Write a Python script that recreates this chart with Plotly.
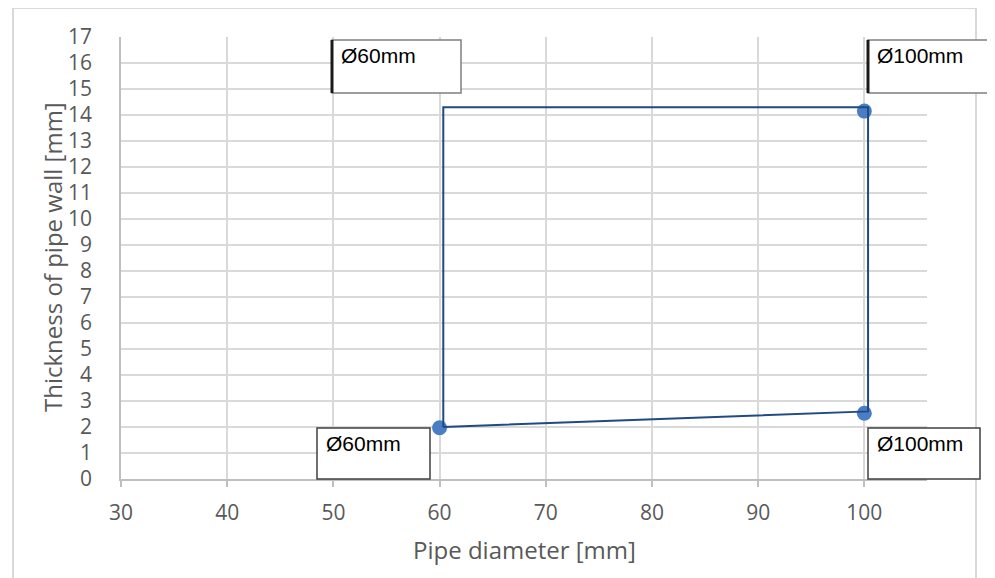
import plotly.graph_objects as go

# ---- data ----
diameter = [60, 100, 100]
thickness = [1.97, 2.53, 14.15]

outline_x = [60.35, 60.35, 100.35, 100.35, 60.35]
outline_y = [2.0, 14.3, 14.3, 2.6, 2.0]

x_ticks = [30, 40, 50, 60, 70, 80, 90, 100]
y_ticks = list(range(0, 18))

label_texts = ["Ø60mm", "Ø100mm", "Ø60mm", "Ø100mm"]

x_title = "Pipe diameter [mm]"
y_title = "Thickness of pipe wall [mm]"

# ---- layout geometry (page pixels; the page body has an 8px margin) ----
OFF = 8
W, H = 995 - OFF, 578 - OFF
L, R, T, B = 121, 927, 37, 479


def px(xp):
    return (xp - L) / (R - L)


def py(yp):
    return (B - yp) / (B - T)


FONT = "Open Sans"

fig = go.Figure()
fig.add_trace(go.Scatter(
    x=diameter, y=thickness, mode="markers",
    marker=dict(size=15, color="#4a7ec4"),
    showlegend=False, hoverinfo="x+y"))
fig.add_trace(go.Scatter(
    x=outline_x, y=outline_y, mode="lines",
    line=dict(color="#1f4a84", width=2),
    showlegend=False, hoverinfo="skip"))

shapes = []
# outer chart border
shapes.append(dict(type="rect", xref="paper", yref="paper",
                   x0=px(13), x1=px(976), y0=py(600), y1=py(8),
                   line=dict(color="#d9d9d9", width=2), layer="below"))

# label boxes (pixel boxes)
boxes = [(332, 40, 461, 93), (868, 40, 1003, 93), (317, 428, 430, 479), (868, 428, 980, 479)]
annotations = []
for i, (x0, y0, x1, y1) in enumerate(boxes):
    top = i < 2
    shapes.append(dict(type="rect", xref="paper", yref="paper",
                       x0=px(x0), x1=px(x1), y0=py(y1), y1=py(y0),
                       fillcolor="white",
                       line=dict(color="#7f7f7f" if top else "#404040", width=1.5),
                       layer="above"))
    if top:
        shapes.append(dict(type="line", xref="paper", yref="paper",
                           x0=px(x0), x1=px(x0), y0=py(y1), y1=py(y0),
                           line=dict(color="#1a1a1a", width=3), layer="above"))
    annotations.append(dict(xref="paper", yref="paper",
                            x=px(x0 + 7), y=py(y0 + 2),
                            xanchor="left", yanchor="top", showarrow=False,
                            text=label_texts[i],
                            font=dict(family="Liberation Sans, Arial", size=21, color="#000000")))

annotations.append(dict(xref="paper", yref="paper", x=px(524), y=py(549),
                        xanchor="center", yanchor="middle", showarrow=False,
                        text=x_title,
                        font=dict(family=FONT, size=24, color="#595959")))
annotations.append(dict(xref="paper", yref="paper", x=px(52), y=py(257),
                        xanchor="center", yanchor="middle", showarrow=False,
                        text=y_title, textangle=-90,
                        font=dict(family=FONT, size=24, color="#595959")))

fig.update_layout(
    width=W, height=H,
    margin=dict(l=L - OFF, r=W - (R - OFF), t=T - OFF, b=H - (B - OFF)),
    paper_bgcolor="white", plot_bgcolor="white",
    shapes=shapes, annotations=annotations,
    font=dict(family=FONT, color="#595959", size=21),
)
fig.update_xaxes(range=[30, 105.9], tickvals=x_ticks, showgrid=True,
                 gridcolor="#d9d9d9", gridwidth=1.5, zeroline=False,
                 showline=True, linecolor="#bfbfbf", linewidth=1.5,
                 ticks="outside", ticklen=6, tickcolor="#bfbfbf", tickwidth=1.5,
                 ticklabelstandoff=8,
                 tickfont=dict(family=FONT, size=21, color="#595959"))
fig.update_yaxes(range=[0, 17], tickvals=y_ticks, showgrid=True,
                 gridcolor="#d9d9d9", gridwidth=1.5, zeroline=False,
                 showline=True, linecolor="#bfbfbf", linewidth=1.5,
                 ticks="", ticklabelstandoff=23,
                 tickfont=dict(family=FONT, size=21, color="#595959"))

fig.write_html("out.html")
